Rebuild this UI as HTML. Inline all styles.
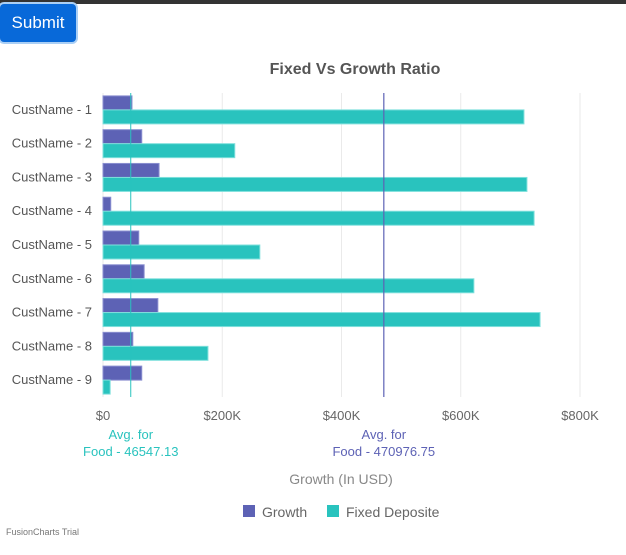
<!DOCTYPE html>
<html><head><meta charset="utf-8"><style>
body{margin:0;width:626px;height:555px;background:#fff;font-family:"Liberation Sans",sans-serif;overflow:hidden;position:relative}
#topbar{position:absolute;left:0;top:0;width:626px;height:4px;background:#333}
#submit{position:absolute;left:0;top:4px;width:76px;height:38px;background:#0869d9;color:#fff;border:none;border-radius:4px;font-size:17px;font-family:"Liberation Sans",sans-serif;box-shadow:0 0 0 2px #aacff5;padding:0}
svg{position:absolute;left:0;top:0}
</style></head><body>
<div id="topbar"></div>
<button id="submit">Submit</button>
<svg id="chart" width="626" height="555"></svg>
<script>
const categories=["CustName - 1","CustName - 2","CustName - 3","CustName - 4","CustName - 5","CustName - 6","CustName - 7","CustName - 8","CustName - 9"];
const growth=[48600,65000,94000,13000,60000,69000,92000,50000,65000];
const fixedDeposit=[706000,221000,711000,723000,263000,622000,733000,176000,12000];
const ticks=[0,200000,400000,600000,800000];
const tickLabels=["$0","$200K","$400K","$600K","$800K"];
const avgGrowth=46547.13;
const avgFixed=470976.75;
const NS="http://www.w3.org/2000/svg";
const svg=document.getElementById('chart');
const xLeft=103,xRight=580,yTop=93,yBottom=397;
const xs=v=>xLeft+v/800000*(xRight-xLeft);
const band=(yBottom-yTop)/categories.length;
function el(t,a,p){const e=document.createElementNS(NS,t);for(const k in a)e.setAttribute(k,a[k]);(p||svg).appendChild(e);return e;}
function txt(s,a){const e=el('text',a);e.textContent=s;return e;}
let t=txt("Fixed Vs Growth Ratio",{x:355,y:74,'text-anchor':'middle','font-size':16,'font-weight':'bold',fill:'#555'});


ticks.forEach((v,i)=>{
 const g=el('line',{x1:xs(v),x2:xs(v),y1:yTop,y2:yBottom,stroke:'#eaeaea'});
 
 
 const l=txt(tickLabels[i],{x:xs(v),y:420,'text-anchor':'middle','font-size':13,fill:'#666'});
 
 
});
categories.forEach((c,i)=>{
 const yc=yTop+band*i+band/2;
 const l=txt(c,{x:92,y:yc+4,'text-anchor':'end','font-size':13,fill:'#555'});
 
 
 const b1=el('rect',{x:xLeft,y:yc-14,width:xs(growth[i])-xLeft,height:14,fill:'#5d62b5',stroke:'#8a8fd0','stroke-width':1});
 
 
 const b2=el('rect',{x:xLeft,y:yc,width:xs(fixedDeposit[i])-xLeft,height:14,fill:'#29c3be',stroke:'#7fe0dc','stroke-width':1});
 
 
});
const a1=el('line',{x1:xs(avgGrowth),x2:xs(avgGrowth),y1:yTop,y2:yBottom,stroke:'#29c3be','stroke-width':1});


const a2=el('line',{x1:xs(avgFixed),x2:xs(avgFixed),y1:yTop,y2:yBottom,stroke:'#5d62b5','stroke-width':1.2});


let l1=txt("Avg. for",{x:xs(avgGrowth),y:439,'text-anchor':'middle','font-size':13,fill:'#29c3be'});


let l2=txt("Food - "+avgGrowth.toFixed(2),{x:xs(avgGrowth),y:456,'text-anchor':'middle','font-size':13,fill:'#29c3be'});


let l3=txt("Avg. for",{x:xs(avgFixed),y:439,'text-anchor':'middle','font-size':13,fill:'#5d62b5'});


let l4=txt("Food - "+avgFixed.toFixed(2),{x:xs(avgFixed),y:456,'text-anchor':'middle','font-size':13,fill:'#5d62b5'});


let xt=txt("Growth (In USD)",{x:341,y:484,'text-anchor':'middle','font-size':14,fill:'#888'});


let s1=el('rect',{x:243,y:505,width:12,height:12,fill:'#5d62b5'});


let g1=txt("Growth",{x:262,y:517,'font-size':14,fill:'#666'});


let s2=el('rect',{x:327,y:505,width:12,height:12,fill:'#29c3be'});


let g2=txt("Fixed Deposite",{x:346,y:517,'font-size':14,fill:'#666'});


let tr=txt("FusionCharts Trial",{x:6,y:535,'font-size':9,fill:'#777'});


</script>
</body></html>
